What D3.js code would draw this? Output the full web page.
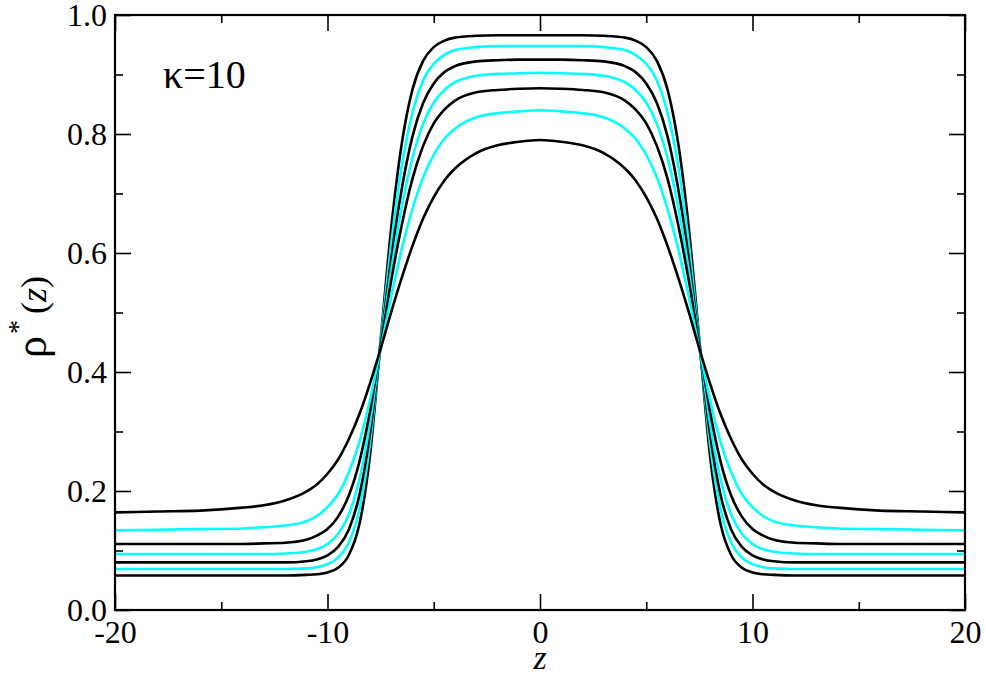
<!DOCTYPE html>
<html>
<head>
<meta charset="utf-8">
<script src="https://cdn.jsdelivr.net/npm/d3@7"></script>
<style>
  html, body { margin: 0; padding: 0; background: #fff; }
  svg { display: block; }
  svg text { font-family: "Liberation Serif", Tinos, "Times New Roman", "Nimbus Roman", "DejaVu Serif", serif; fill: #000; }
</style>
</head>
<body>
<svg id="chart" width="985" height="677"></svg>
<script>
// ---- data ----
const zValues = [-20,-18,-16,-14,-13,-12,-11,-10.5,-10,-9.5,-9,-8.5,-8,-7.5,-7,-6.5,-6,-5.5,-5,-4.5,-4,-3,-2,-1,0,
                 1,2,3,4,4.5,5,5.5,6,6.5,7,7.5,8,8.5,9,9.5,10,10.5,11,12,13,14,16,18,20];

const rho1 = [0.058,0.058,0.058,0.058,0.058,0.058,0.059,0.060,0.063,0.071,0.092,0.144,0.259,0.453,0.643,0.785,0.875,0.923,0.946,0.957,0.962,0.965,0.966,0.966,0.966,
              0.966,0.966,0.965,0.962,0.957,0.946,0.923,0.875,0.785,0.643,0.453,0.259,0.144,0.092,0.071,0.063,0.060,0.059,0.058,0.058,0.058,0.058,0.058,0.058];
const rho2 = [0.069,0.069,0.069,0.069,0.069,0.069,0.070,0.072,0.077,0.088,0.113,0.169,0.279,0.450,0.616,0.747,0.836,0.890,0.918,0.933,0.941,0.946,0.948,0.948,0.948,
              0.948,0.948,0.946,0.941,0.933,0.918,0.890,0.836,0.747,0.616,0.450,0.279,0.169,0.113,0.088,0.077,0.072,0.070,0.069,0.069,0.069,0.069,0.069,0.069];
const rho3 = [0.080,0.080,0.080,0.080,0.080,0.080,0.082,0.085,0.092,0.106,0.135,0.193,0.296,0.445,0.591,0.709,0.796,0.852,0.885,0.904,0.914,0.922,0.924,0.925,0.925,
              0.925,0.924,0.922,0.914,0.904,0.885,0.852,0.796,0.709,0.591,0.445,0.296,0.193,0.135,0.106,0.092,0.085,0.082,0.080,0.080,0.080,0.080,0.080,0.080];
const rho4 = [0.094,0.094,0.094,0.094,0.094,0.095,0.098,0.102,0.111,0.128,0.160,0.219,0.314,0.444,0.571,0.678,0.760,0.817,0.853,0.874,0.887,0.898,0.901,0.902,0.903,
              0.902,0.901,0.898,0.887,0.874,0.853,0.817,0.760,0.678,0.571,0.444,0.314,0.219,0.160,0.128,0.111,0.102,0.098,0.095,0.094,0.094,0.094,0.094,0.094];
const rho5 = [0.111,0.111,0.111,0.111,0.112,0.113,0.118,0.125,0.136,0.157,0.192,0.249,0.334,0.444,0.554,0.648,0.725,0.780,0.818,0.841,0.856,0.870,0.874,0.876,0.877,
              0.876,0.874,0.870,0.856,0.841,0.818,0.780,0.725,0.648,0.554,0.444,0.334,0.249,0.192,0.157,0.136,0.125,0.118,0.113,0.112,0.111,0.111,0.111,0.111];
const rho6 = [0.134,0.135,0.136,0.137,0.139,0.142,0.149,0.158,0.173,0.195,0.231,0.282,0.353,0.439,0.527,0.607,0.674,0.727,0.765,0.792,0.809,0.828,0.835,0.838,0.840,
              0.838,0.835,0.828,0.809,0.792,0.765,0.727,0.674,0.607,0.527,0.439,0.353,0.282,0.231,0.195,0.173,0.158,0.149,0.142,0.139,0.137,0.136,0.135,0.134];
const rho7 = [0.164,0.1655,0.167,0.172,0.176,0.184,0.199,0.211,0.229,0.253,0.287,0.329,0.381,0.439,0.501,0.559,0.612,0.658,0.694,0.722,0.742,0.768,0.781,0.787,0.790,
              0.787,0.781,0.768,0.742,0.722,0.694,0.658,0.612,0.559,0.501,0.439,0.381,0.329,0.287,0.253,0.229,0.211,0.199,0.184,0.176,0.172,0.167,0.1655,0.164];

const seriesList = [rho1, rho2, rho3, rho4, rho5, rho6, rho7];
const seriesColors = ["#000000", "#00ffff", "#000000", "#00ffff", "#000000", "#00ffff", "#000000"];

const xMajorTicks = [-20, -10, 0, 10, 20];
const xMinorTicks = [-15, -5, 5, 15];
const yMajorTicks = [0, 0.2, 0.4, 0.6, 0.8, 1.0];
const yMinorTicks = [0.1, 0.3, 0.5, 0.7, 0.9];
const annotation = "κ=10";

// ---- layout ----
const FONT = '"Liberation Serif", Tinos, "Times New Roman", "Nimbus Roman", "DejaVu Serif", serif';
const L = 115, R = 965, T = 15, B = 610;
const svg = d3.select("#chart");
const x = d3.scaleLinear().domain([-20, 20]).range([L, R]);
const y = d3.scaleLinear().domain([0, 1]).range([B, T]);

// curves
const clipId = "plotclip";
svg.append("clipPath").attr("id", clipId).append("rect")
  .attr("x", L).attr("y", T).attr("width", R - L).attr("height", B - T);

const line = d3.line()
  .x((d, i) => x(zValues[i]))
  .y(d => y(d))
  .curve(d3.curveMonotoneX);

const gLines = svg.append("g").attr("clip-path", `url(#${clipId})`);
seriesList.forEach((s, k) => {
  gLines.append("path")
    .datum(s)
    .attr("d", line)
    .attr("fill", "none")
    .attr("stroke", seriesColors[k])
    .attr("stroke-width", 2.6)
    .attr("stroke-linejoin", "round");
});

// axes
function styleAxis(g) {
  g.attr("font-family", FONT).attr("font-size", 32);
  g.select(".domain").remove();
  g.selectAll(".tick line").attr("stroke", "#000").attr("stroke-width", 1.6);
  g.selectAll(".tick text")
    .style("font-family", FONT)
    .style("font-size", "32px")
    .attr("fill", "#000");
}
const plainFmt = d => String(d);

svg.append("g").attr("transform", `translate(0,${B})`)
  .call(d3.axisBottom(x).tickValues(xMajorTicks).tickSize(-16).tickPadding(10).tickFormat(plainFmt))
  .call(styleAxis);
svg.append("g").attr("transform", `translate(0,${B})`)
  .call(d3.axisBottom(x).tickValues(xMinorTicks).tickSize(-8).tickFormat(""))
  .call(styleAxis);
svg.append("g").attr("transform", `translate(0,${T})`)
  .call(d3.axisTop(x).tickValues(xMajorTicks).tickSize(-16).tickFormat(""))
  .call(styleAxis);
svg.append("g").attr("transform", `translate(0,${T})`)
  .call(d3.axisTop(x).tickValues(xMinorTicks).tickSize(-8).tickFormat(""))
  .call(styleAxis);

svg.append("g").attr("transform", `translate(${L},0)`)
  .call(d3.axisLeft(y).tickValues(yMajorTicks).tickSize(-16).tickPadding(8).tickFormat(d3.format(".1f")))
  .call(styleAxis);
svg.append("g").attr("transform", `translate(${L},0)`)
  .call(d3.axisLeft(y).tickValues(yMinorTicks).tickSize(-8).tickFormat(""))
  .call(styleAxis);
svg.append("g").attr("transform", `translate(${R},0)`)
  .call(d3.axisRight(y).tickValues(yMajorTicks).tickSize(-16).tickFormat(""))
  .call(styleAxis);
svg.append("g").attr("transform", `translate(${R},0)`)
  .call(d3.axisRight(y).tickValues(yMinorTicks).tickSize(-8).tickFormat(""))
  .call(styleAxis);

// frame
svg.append("rect")
  .attr("x", L).attr("y", T).attr("width", R - L).attr("height", B - T)
  .attr("fill", "none").attr("stroke", "#000").attr("stroke-width", 2.2);

// annotation
svg.append("text")
  .attr("x", 163).attr("y", 88)
  .style("font-family", FONT)
  .style("font-size", "40px")
  .text(annotation);

// x label
svg.append("text")
  .attr("x", 540).attr("y", 669)
  .attr("text-anchor", "middle")
  .style("font-family", FONT)
  .style("font-size", "34px")
  .style("font-style", "italic")
  .text("z");

// y label
const yl = svg.append("text")
  .attr("transform", "translate(46,358) rotate(-90)")
  .style("font-family", FONT);
yl.append("tspan").style("font-size", "44px").text("ρ");
yl.append("tspan").style("font-size", "28px").attr("dy", -19).attr("dx", 2).text("*");
yl.append("tspan").style("font-size", "36px").attr("dy", 19).attr("dx", 6).text("(");
yl.append("tspan").style("font-size", "36px").style("font-style", "italic").text("z");
yl.append("tspan").style("font-size", "36px").text(")");
</script>
</body>
</html>
